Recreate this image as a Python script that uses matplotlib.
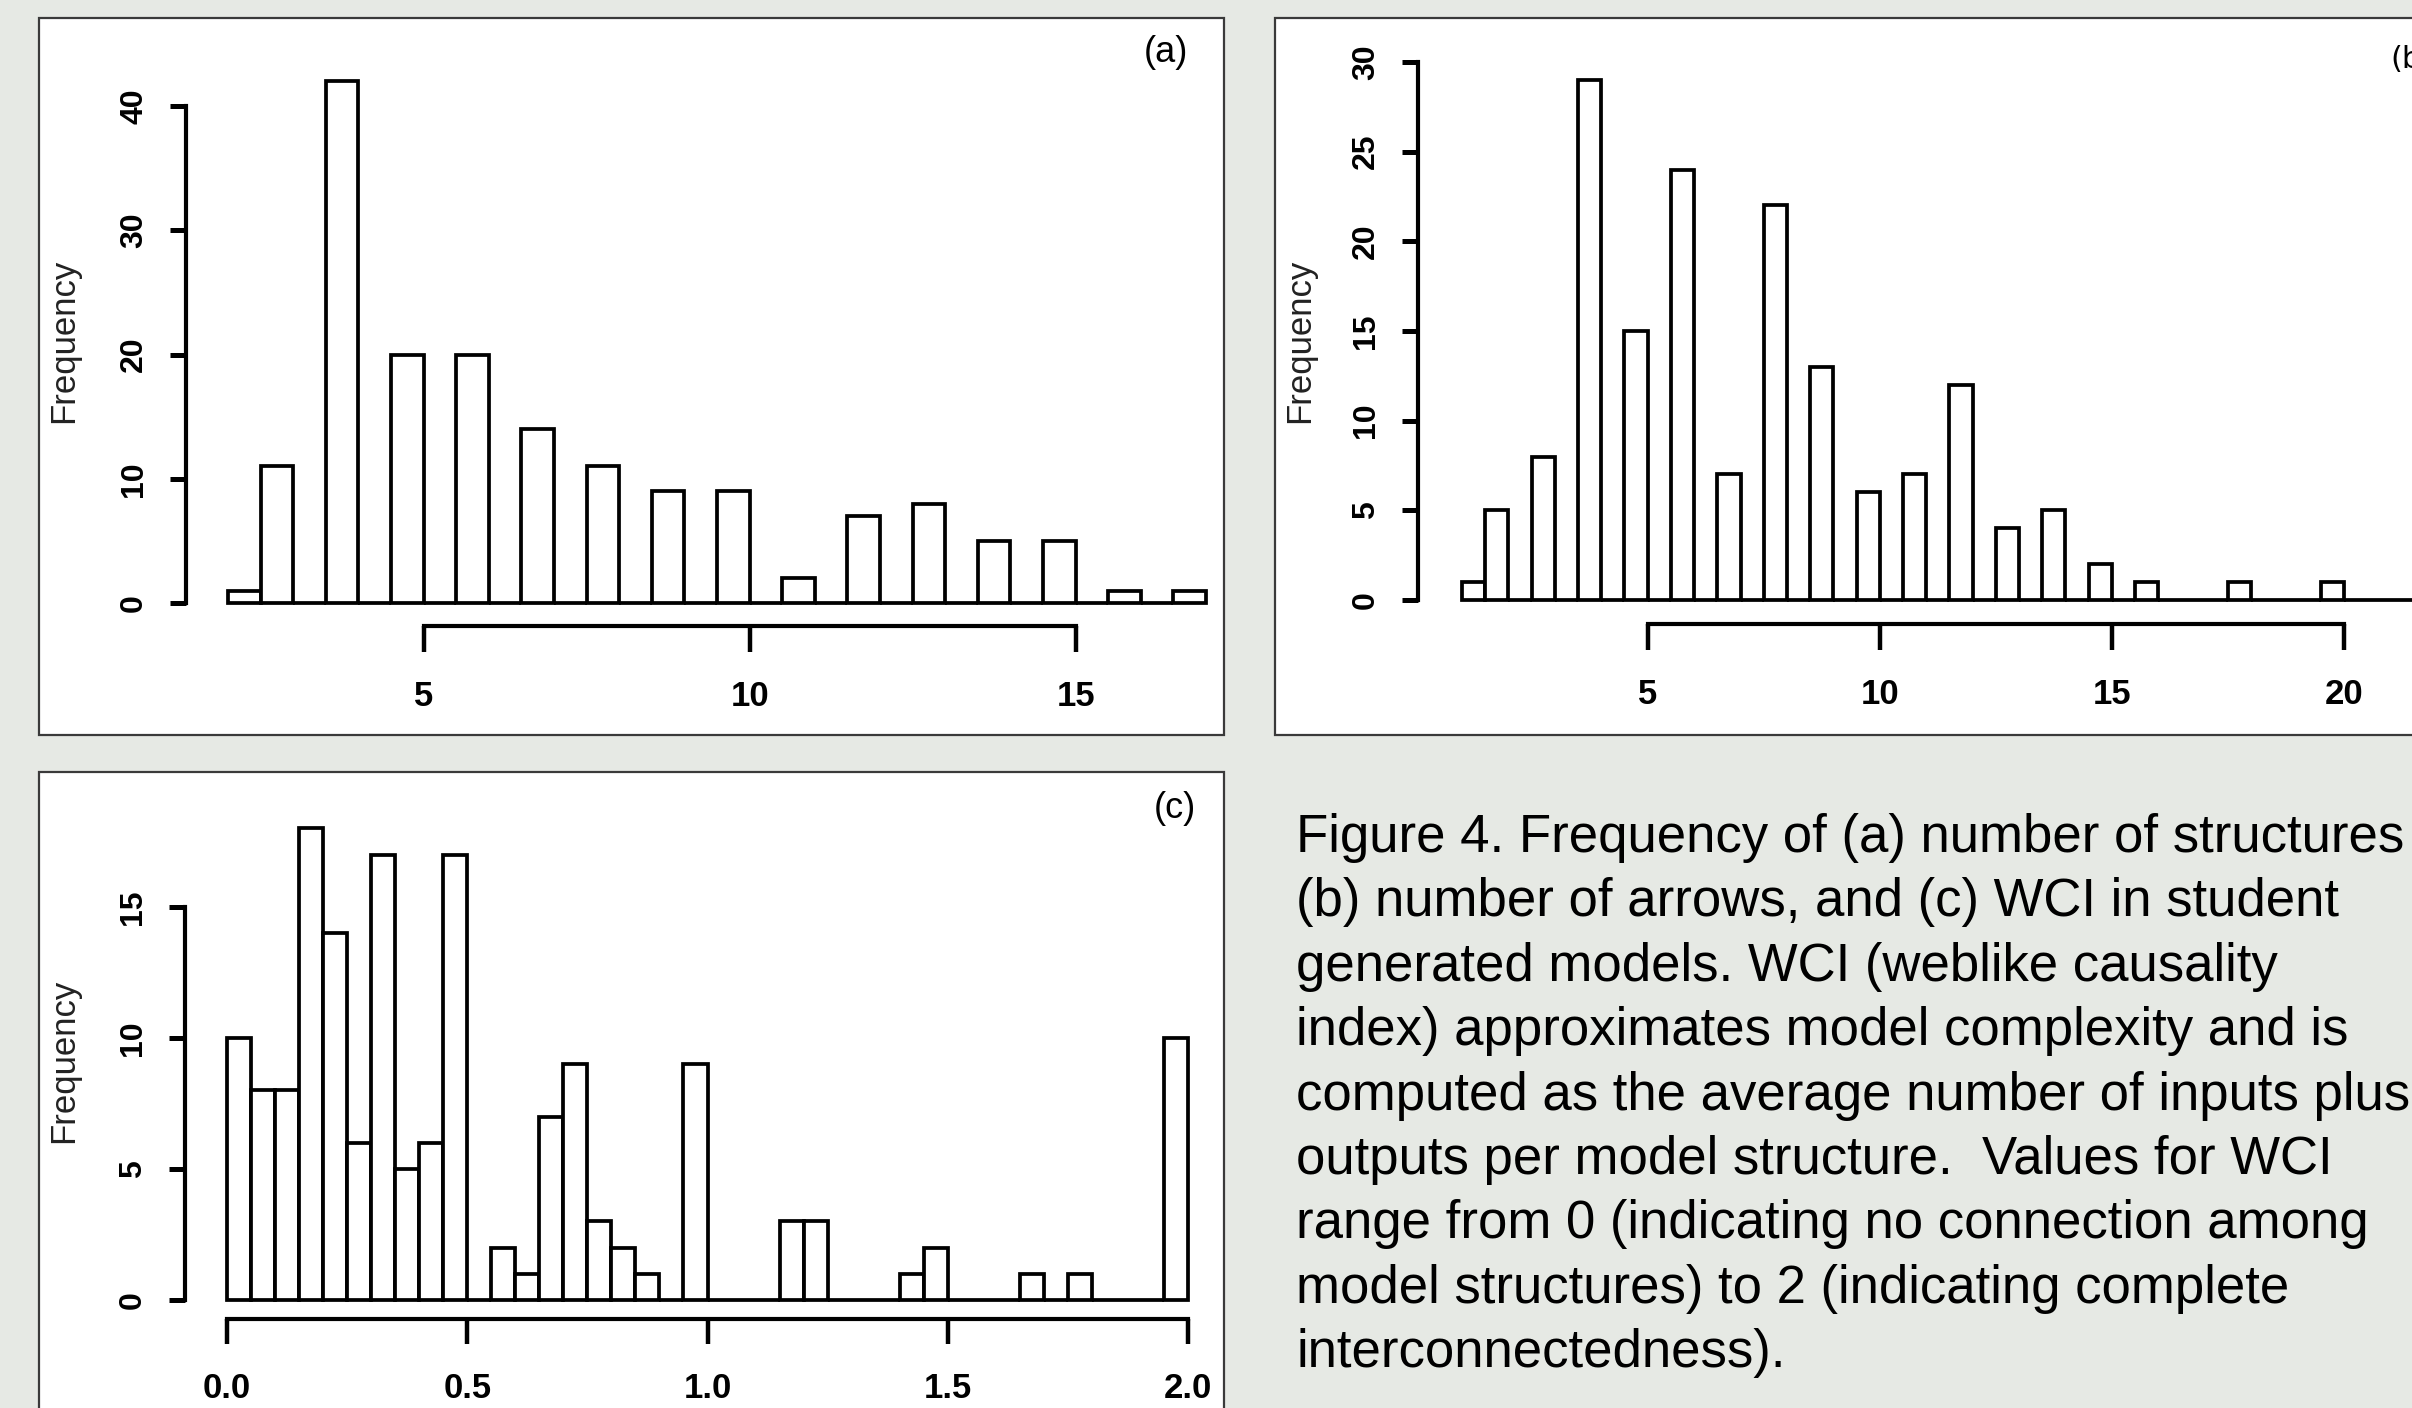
import numpy as np
import matplotlib
matplotlib.use("Agg")
import matplotlib.pyplot as plt
from matplotlib.patches import Rectangle

W, H = 2412, 1408
BG = "#E6E9E4"

# (a) number of structures per model
a_values = np.array([2, 3, 4, 5, 6, 7, 8, 9, 10, 11, 12, 13, 14, 15, 16, 17])
a_counts = np.array([1, 11, 42, 20, 20, 14, 11, 9, 9, 2, 7, 8, 5, 5, 1, 1])
a_breaks = np.arange(2, 17.01, 0.5)

# (b) number of arrows per model
b_values = np.array([1, 2, 3, 4, 5, 6, 7, 8, 9, 10, 11, 12, 13, 14, 15, 16, 18, 20])
b_counts = np.array([1, 5, 8, 29, 15, 24, 7, 22, 13, 6, 7, 12, 4, 5, 2, 1, 1, 1])
b_breaks = np.arange(1, 22.01, 0.5)

# (c) WCI, counts per 0.05 bin from 0 to 2
c_breaks = np.linspace(0, 2, 41)
c_counts = np.array([10, 8, 8, 18, 14, 6, 17, 5, 6, 17,
                     0, 2, 1, 7, 9, 3, 2, 1, 0, 9,
                     0, 0, 0, 3, 3, 0, 0, 0, 1, 2,
                     0, 0, 0, 1, 0, 1, 0, 0, 0, 10])

a_xticks, a_yticks = [5, 10, 15], [0, 10, 20, 30, 40]
b_xticks, b_yticks = [5, 10, 15, 20], [0, 5, 10, 15, 20, 25, 30]
c_xticks, c_yticks = [0.0, 0.5, 1.0, 1.5, 2.0], [0, 5, 10, 15]

caption = [
    "Figure 4. Frequency of (a) number of structures",
    "(b) number of arrows, and (c) WCI in student",
    "generated models. WCI (weblike causality",
    "index) approximates model complexity and is",
    "computed as the average number of inputs plus",
    "outputs per model structure.  Values for WCI",
    "range from 0 (indicating no connection among",
    "model structures) to 2 (indicating complete",
    "interconnectedness).",
]

PT = 72 / 100  # points per pixel


def bin_counts(values, counts, breaks):
    # R style hist: right-closed bins, lowest included
    idx = np.clip(np.searchsorted(breaks, values, side="left") - 1, 0, len(breaks) - 2)
    out = np.zeros(len(breaks) - 1)
    np.add.at(out, idx, counts)
    return out


fig = plt.figure(figsize=(W / 100, H / 100), dpi=100, facecolor=BG)


def panel(x0, y0, x1, y1):
    fig.patches.append(Rectangle((x0 / W, 1 - y1 / H), (x1 - x0) / W, (y1 - y0) / H,
                                 transform=fig.transFigure, facecolor="white",
                                 edgecolor="#3a3a3a", linewidth=1.6, zorder=-10))


def hist_axes(breaks, counts, xcal, ycal, ylim, xticks, yticks, xlabels,
              left_spine_px, bottom_spine_px, xtick_len, ylab_px):
    # xcal/ycal: ((data0, px0), (data1, px1))
    (dx0, px0), (dx1, px1) = xcal
    (dy0, py0), (dy1, py1) = ycal
    sx = (px1 - px0) / (dx1 - dx0)
    sy = (py0 - py1) / (dy1 - dy0)
    xl, xr = breaks[0], breaks[-1]
    left = px0 + (xl - dx0) * sx
    right = px0 + (xr - dx0) * sx
    bottom = py0 + (dy0 - ylim[0]) * sy
    top = py0 - (ylim[1] - dy0) * sy
    ax = fig.add_axes([left / W, 1 - bottom / H, (right - left) / W, (bottom - top) / H])
    ax.set_zorder(5)
    ax.set_facecolor("none")
    ax.bar(breaks[:-1], counts, width=np.diff(breaks), align="edge",
           facecolor="white", edgecolor="black", linewidth=2.7, clip_on=False)
    ax.set_xlim(xl, xr)
    ax.set_ylim(*ylim)
    for s in ("top", "right"):
        ax.spines[s].set_visible(False)
    ax.spines["left"].set_position(("outward", (left - left_spine_px) * PT))
    ax.spines["bottom"].set_position(("outward", (bottom_spine_px - bottom) * PT))
    ax.spines["left"].set_bounds(yticks[0], yticks[-1])
    ax.spines["bottom"].set_bounds(xticks[0], xticks[-1])
    for s in ("left", "bottom"):
        ax.spines[s].set_linewidth(3.0)
        ax.spines[s].set_capstyle("projecting")
    ax.set_xticks(xticks)
    ax.set_xticklabels(xlabels, family="Liberation Sans",
                       fontweight="bold", fontsize=25)
    ax.set_yticks(yticks)
    ax.set_yticklabels([str(v) for v in yticks], family="Liberation Sans",
                       fontweight="bold", fontsize=23, rotation=90, va="center")
    ax.tick_params(axis="x", length=xtick_len * PT, width=3.2, pad=20)
    ax.tick_params(axis="y", length=16 * PT, width=3.6, pad=15)
    fig.text(ylab_px[0] / W, 1 - ylab_px[1] / H, "Frequency", rotation=90,
             ha="center", va="center", fontsize=25, color="#222222",
             family="Liberation Sans")
    return ax


# panel boxes
panel(39, 18, 1224, 735)
panel(1275, 18, 2460, 735)
panel(39, 772, 1224, 1440)

hist_axes(a_breaks, bin_counts(a_values, a_counts, a_breaks),
          ((2, 228), (17, 1206)), ((0, 603), (40, 106)), (0, 44),
          a_xticks, a_yticks, [str(v) for v in a_xticks],
          186, 626, 26, (64, 341))

hist_axes(b_breaks, bin_counts(b_values, b_counts, b_breaks),
          ((1, 1462), (20, 2344)), ((0, 600), (30, 62)), (0, 31),
          b_xticks, b_yticks, [str(v) for v in b_xticks],
          1418, 624, 26, (1300, 341))

hist_axes(c_breaks, c_counts,
          ((0, 227), (2, 1188)), ((0, 1300), (15, 907)), (0, 19),
          c_xticks, c_yticks, ["%.1f" % v for v in c_xticks],
          185, 1319, 25, (64, 1061))

# panel letters
fig.text(1188 / W, 1 - 52 / H, "(a)", ha="right", va="center", fontsize=26,
         family="Liberation Sans")
fig.text(2390 / W, 1 - 59 / H, "(b)", ha="left", va="center", fontsize=22,
         family="DejaVu Sans")
fig.text(1196 / W, 1 - 808 / H, "(c)", ha="right", va="center", fontsize=26,
         family="Liberation Sans")

# caption, one line per row
for i, line in enumerate(caption):
    fig.text(1296 / W, 1 - (852 + i * 64.4) / H, line, ha="left", va="baseline",
             fontsize=38, family="Liberation Sans", color="black")

fig.savefig("out.png", dpi=100, facecolor=BG)
